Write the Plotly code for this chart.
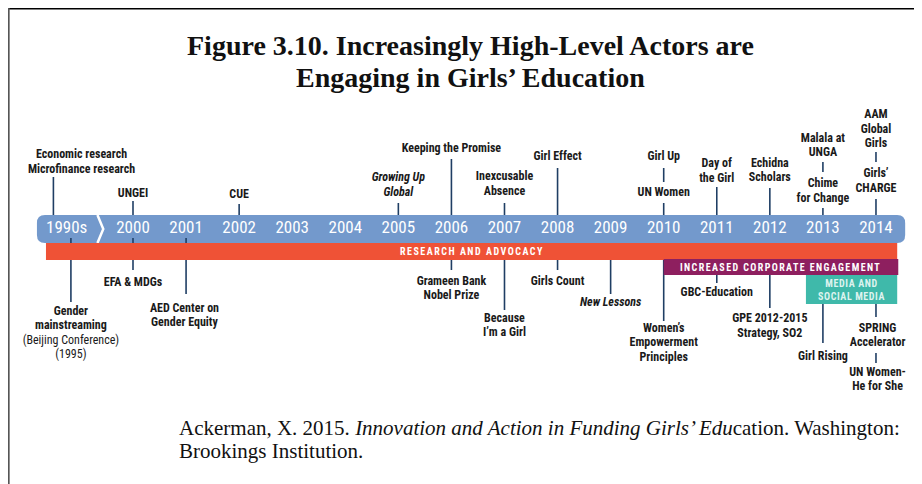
import plotly.graph_objects as go

# ---------------- data ----------------
YEAR_LABELS = ["1990s", "2000", "2001", "2002", "2003", "2004", "2005", "2006",
               "2007", "2008", "2009", "2010", "2011", "2012", "2013", "2014"]
YEAR_POS = [1998.75, 2000, 2001, 2002, 2003, 2004, 2005, 2006,
            2007, 2008, 2009, 2010, 2011, 2012, 2013, 2014]

# events above the timeline ("i:" = italic line, "r:" = regular line)
ABOVE_YEARS = [1998.5, 2000, 2002, 2005, 2006, 2007, 2008, 2010, 2010,
               2011, 2012, 2013, 2013, 2014, 2014]
ABOVE_LABELS = [
    ["Economic research", "Microfinance research"],
    ["UNGEI"],
    ["CUE"],
    ["i:Growing Up", "i:Global"],
    ["Keeping the Promise"],
    ["Inexcusable", "Absence"],
    ["Girl Effect"],
    ["Girl Up"],
    ["UN Women"],
    ["Day of", "the Girl"],
    ["Echidna", "Scholars"],
    ["Malala at", "UNGA"],
    ["Chime", "for Change"],
    ["AAM", "Global", "Girls"],
    ["Girls’", "CHARGE"],
]

# events below the timeline
BELOW_YEARS = [1998.83, 2000, 2001, 2006, 2007, 2008, 2009, 2010, 2011,
               2012, 2013, 2014, 2014]
BELOW_LABELS = [
    ["Gender", "mainstreaming", "r:(Beijing Conference)", "r:(1995)"],
    ["EFA & MDGs"],
    ["AED Center on", "Gender Equity"],
    ["Grameen Bank", "Nobel Prize"],
    ["Because", "I’m a Girl"],
    ["Girls Count"],
    ["i:New Lessons"],
    ["Women’s", "Empowerment", "Principles"],
    ["GBC-Education"],
    ["GPE 2012-2015", "Strategy, SO2"],
    ["Girl Rising"],
    ["SPRING", "Accelerator"],
    ["UN Women-", "He for She"],
]

# phases (bands) under the timeline
BAND_LABELS = ["RESEARCH AND ADVOCACY", "INCREASED CORPORATE ENGAGEMENT",
               "MEDIA AND<br>SOCIAL MEDIA"]
BAND_START = [1998.36, 2010.0, 2012.68]
BAND_END = [2014.40, 2014.42, 2014.40]

TITLE = ["Figure 3.10. Increasingly High-Level Actors are",
         "Engaging in Girls’ Education"]
SOURCE = ["Ackerman, X. 2015. <i>Innovation and Action in Funding Girls’ Edu</i>cation. Washington:",
          "Brookings Institution."]

# ---------------- layout / style ----------------
OFF = 8                      # page margin of the html body
W, H = 922 - OFF, 484 - OFF  # figure size
PX_PER_YEAR = 53.07
X0 = 2000 - (133 - OFF) / PX_PER_YEAR
X1 = X0 + W / PX_PER_YEAR
Y_TOP, Y_BOT = OFF, OFF + H  # y axis expressed in page rows


def px(xs):
    return (xs - OFF) / W


def py(ys):
    return 1 - (ys - OFF) / H


# (label centre y, stem top, stem bottom, label x shift in years)
ABOVE_LAYOUT = [
    (162.5, 177, 215, 0.53), (194, 201, 215, 0), (195, 204, 215, 0),
    (185.5, 203, 215, 0), (149, 159, 215, 0), (184.5, 203, 215, 0),
    (157, 168, 215, 0), (157, 168, 182, 0), (193, 203, 215, 0),
    (171.5, 187, 215, 0), (171, 188, 215, 0), (146, 162, 172, 0),
    (191.5, 208, 215, 0), (129.5, 152, 162, 0), (181.5, 199, 215, 0),
]
BELOW_LAYOUT = [
    (333.5, 238, 302, 0), (283, 238, 270, 0), (316, 238, 294, -0.03),
    (289, 260, 270, 0), (326, 260, 310, 0), (282, 260, 270, 0),
    (303, 260, 294, 0), (343, 260, 321, 0), (293, 275, 283, 0),
    (326.5, 275, 308, 0), (357, 304, 343, 0), (336, 304, 317, 0.03),
    (380, 353, 363, 0.03),
]
BAND_Y = [(243, 260), (259, 275), (275, 304)]
BAND_COLORS = ["#EF5236", "#8E1F5F", "#3FB9AA"]
BAND_TEXT_COLORS = ["white", "white", "#DDF3EF"]

BLUE = "#7399CC"
STEM = "#1F3E64"
TXT = "#1A1A1A"
LINE_H = 14.5
LABEL_FONT = "Liberation Sans Narrow, Arial Narrow, Roboto Condensed, Roboto, sans-serif"
SERIF = "Liberation Serif, DejaVu Serif, serif"

fig = go.Figure()

# stems
sx, sy = [], []
for yrs, lay in ((ABOVE_YEARS, ABOVE_LAYOUT), (BELOW_YEARS, BELOW_LAYOUT)):
    for yr, (cy, s0, s1, dx) in zip(yrs, lay):
        sx += [yr, yr, None]
        sy += [s0, s1, None]
fig.add_trace(go.Scatter(x=sx, y=sy, mode="lines", line=dict(color=STEM, width=1.6),
                         hoverinfo="skip", showlegend=False))

# event labels, one text item per line
tx, ty, tt = [], [], []
for yrs, labs, lay in ((ABOVE_YEARS, ABOVE_LABELS, ABOVE_LAYOUT),
                       (BELOW_YEARS, BELOW_LABELS, BELOW_LAYOUT)):
    for yr, lines, (cy, s0, s1, dx) in zip(yrs, labs, lay):
        n = len(lines)
        for i, ln in enumerate(lines):
            if ln.startswith("i:"):
                t = "<b><i>" + ln[2:] + "</i></b>"
            elif ln.startswith("r:"):
                t = ln[2:]
            else:
                t = "<b>" + ln + "</b>"
            tx.append(yr + dx)
            ty.append(cy + (i - (n - 1) / 2) * LINE_H)
            tt.append(t)
fig.add_trace(go.Scatter(x=tx, y=ty, text=tt, mode="text", textposition="middle center",
                         textfont=dict(family=LABEL_FONT, size=12, color=TXT),
                         hoverinfo="skip", showlegend=False))

# year labels on the blue bar
fig.add_trace(go.Scatter(x=YEAR_POS, y=[229] * len(YEAR_POS), text=YEAR_LABELS, mode="text",
                         textposition="middle center",
                         textfont=dict(family=LABEL_FONT, size=17, color="white"),
                         hoverinfo="skip", showlegend=False))

shapes = []
# blue timeline bar with rounded ends
bx0, bx1, by0, by1 = 1998.19, 2014.55, 215, 243
r = 8
rx = r / PX_PER_YEAR
path = (f"M {bx0+rx},{by0} L {bx1-rx},{by0} Q {bx1},{by0} {bx1},{by0+r} "
        f"L {bx1},{by1-r} Q {bx1},{by1} {bx1-rx},{by1} L {bx0+rx},{by1} "
        f"Q {bx0},{by1} {bx0},{by1-r} L {bx0},{by0+r} Q {bx0},{by0} {bx0+rx},{by0} Z")
shapes.append(dict(type="path", path=path, xref="x", yref="y", fillcolor=BLUE,
                   line=dict(width=0), layer="below"))
# chevron after 1990s
shapes.append(dict(type="path", path="M 1999.33,215 L 1999.44,229 L 1999.33,243",
                   xref="x", yref="y", line=dict(color="white", width=2.5), layer="below"))
# bands
for (y0, y1), c, xs, xe in zip(BAND_Y, BAND_COLORS, BAND_START, BAND_END):
    shapes.append(dict(type="rect", xref="x", yref="y", x0=xs, x1=xe, y0=y0, y1=y1,
                       fillcolor=c, line=dict(width=0), layer="above"))
# frame
shapes.append(dict(type="line", xref="paper", yref="paper", x0=0, x1=1, y0=py(8.6),
                   y1=py(8.6), line=dict(color="black", width=2)))
shapes.append(dict(type="line", xref="paper", yref="paper", x0=px(8.4), x1=px(8.4), y0=py(8),
                   y1=0, line=dict(color="#555555", width=2.5)))

ann = []
band_cy = [251.5, 267, 289.5]
band_sp = [1.5, 1.4, 0.6]
for lab, xs, xe, cy, c, sp in zip(BAND_LABELS, BAND_START, BAND_END, band_cy,
                                  BAND_TEXT_COLORS, band_sp):
    parts = lab.split("<br>")
    txt = "<br>".join(f'<span style="letter-spacing:{sp}px">{p}</span>' for p in parts)
    ann.append(dict(x=(xs + xe) / 2, y=cy, xref="x", yref="y", text="<b>" + txt + "</b>",
                    showarrow=False, font=dict(family=LABEL_FONT, size=10, color=c),
                    xanchor="center", yanchor="middle"))
for i, t in enumerate(TITLE):
    ann.append(dict(x=px(470), y=py(46 + 31 * i), xref="paper", yref="paper",
                    text="<b>" + t + "</b>", showarrow=False,
                    font=dict(family=SERIF, size=28, color="#111111"),
                    xanchor="center", yanchor="middle"))
for i, t in enumerate(SOURCE):
    ann.append(dict(x=px(177), y=py(428 + 23 * i), xref="paper", yref="paper",
                    text=t, showarrow=False,
                    font=dict(family=SERIF, size=21, color="#111111"),
                    xanchor="left", yanchor="middle"))

fig.update_layout(
    width=W, height=H, margin=dict(l=0, r=0, t=0, b=0),
    paper_bgcolor="white", plot_bgcolor="white",
    xaxis=dict(range=[X0, X1], visible=False, fixedrange=True),
    yaxis=dict(range=[Y_BOT, Y_TOP], visible=False, fixedrange=True),
    shapes=shapes, annotations=ann, showlegend=False,
)
fig.write_html("out.html")
